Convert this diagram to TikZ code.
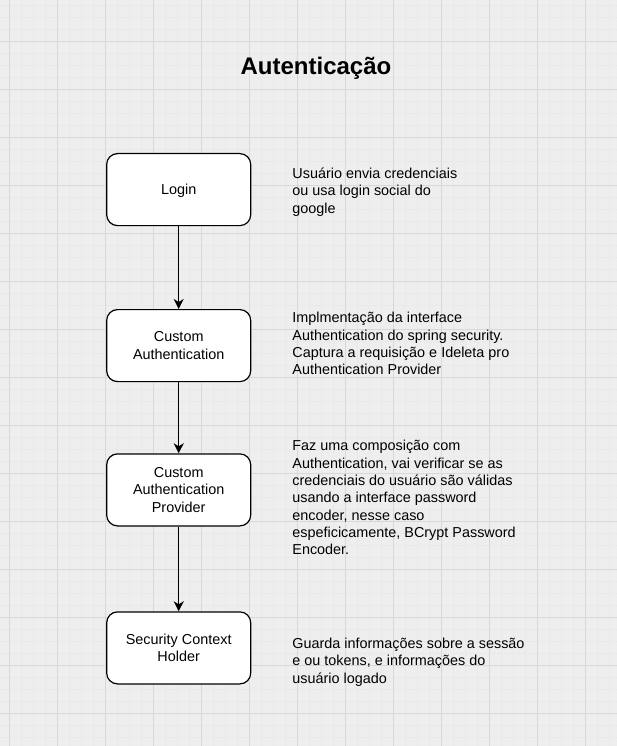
\documentclass[tikz,border=0pt]{standalone}
\usepackage{fontspec}
\setmainfont{Liberation Sans}
\usetikzlibrary{arrows.meta}
\definecolor{bgc}{RGB}{238,238,238}
\definecolor{minorc}{RGB}{233,233,233}
\definecolor{majorc}{RGB}{216,216,216}
\newcommand\dstrut{\rule[-3.65pt]{0pt}{17.28pt}}
\tikzset{
 stepbox/.style={draw=black, line width=1.2pt, fill=white, rounded corners=10.8pt,
   minimum width=144pt, minimum height=72pt, inner sep=0pt, align=center,
   font=\fontsize{14.4pt}{17.28pt}\selectfont},
 desc/.style={anchor=north west, inner sep=0pt, align=left,
   font=\fontsize{14.4pt}{17.28pt}\selectfont},
 flow/.style={draw=black, line width=1.2pt, -{Stealth[length=10pt,width=10pt,inset=3pt]}},
 titletext/.style={anchor=base, inner sep=0pt, font=\fontsize{24pt}{28pt}\selectfont\bfseries},
}
\begin{document}
\begin{tikzpicture}[x=1pt,y=-1pt]
\useasboundingbox (0,0) rectangle (617,746);
\fill[bgc] (0,0) rectangle (617,746);
\foreach \i in {0,...,51} {\draw[minorc, line width=1pt] ({9.5+12*\i},0) -- ({9.5+12*\i},746);}
\foreach \i in {0,...,61} {\draw[minorc, line width=1pt] (0,{5.5+12*\i}) -- (617,{5.5+12*\i});}
\foreach \i in {0,...,12} {\draw[majorc, line width=1pt] ({9.5+48*\i},0) -- ({9.5+48*\i},746);}
\foreach \i in {0,...,14} {\draw[majorc, line width=1pt] (0,{41.5+48*\i}) -- (617,{41.5+48*\i});}

\node[titletext] (title) at (316,74.7) {Autenticação};

\node[stepbox] (login) at (178.7,189.6) {\dstrut Login};
\node[stepbox] (cauth) at (178.7,345.6) {\dstrut Custom\\\dstrut Authentication};
\node[stepbox] (cprov) at (178.7,489.9) {\dstrut Custom\\\dstrut Authentication\\\dstrut Provider};
\node[stepbox] (sch) at (178.7,647.9) {\dstrut Security Context\\\dstrut Holder};

\draw[flow] (login) -- (cauth);
\draw[flow] (cauth) -- (cprov);
\draw[flow] (cprov) -- (sch);

\node[desc] (d1) at (292.2,164.7) {\dstrut Usuário envia credenciais\\\dstrut ou usa login social do\\\dstrut google};
\node[desc] (d2) at (292.2,309.1) {\dstrut Implmentação da interface\\\dstrut Authentication do spring security.\\\dstrut Captura a requisição e Ideleta pro\\\dstrut Authentication Provider};
\node[desc] (d3) at (292.2,437.1) {\dstrut Faz uma composição com\\\dstrut Authentication, vai verificar se as\\\dstrut credenciais do usuário são válidas\\\dstrut usando a interface password\\\dstrut encoder, nesse caso\\\dstrut espeficicamente, BCrypt Password\\\dstrut Encoder.};
\node[desc] (d4) at (292.2,634.7) {\dstrut Guarda informações sobre a sessão\\\dstrut e ou tokens, e informações do\\\dstrut usuário logado};
\end{tikzpicture}
\end{document}
